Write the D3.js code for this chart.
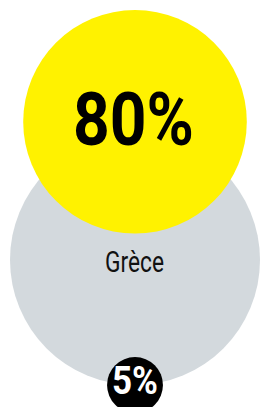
<!DOCTYPE html>
<html>
<head>
<meta charset="utf-8">
<script src="https://cdn.jsdelivr.net/npm/d3@7"></script>
<style>
  html,body{margin:0;padding:0;background:#fff;overflow:hidden;}
</style>
</head>
<body>
<script>
// data
var country="Grèce";
var total=100;
var shares=[80,5];
var shareLabels=["80%","5%"];

var W=261,H=407;
var svg=d3.select("body")
		.append("svg")
		.attr("width",W)
		.attr("height",H);

var r=d3.scaleSqrt()
		.domain([0,total])
		.range([0,125]);

var cx=135;
var grayCy=260;
var yellowCy=10+r(shares[0]);
var blackCy=grayCy+r(total);

// big gray circle = total
svg.append("circle")
		.attr("cx",cx)
		.attr("cy",grayCy)
		.attr("r",r(total))
		.attr("fill","#d3d9dd");
// yellow circle
svg.append("circle")
		.attr("cx",cx)
		.attr("cy",yellowCy)
		.attr("r",r(shares[0]))
		.attr("fill","#fff200");
// black circle
svg.append("circle")
		.attr("cx",cx)
		.attr("cy",blackCy)
		.attr("r",r(shares[1]))
		.attr("fill","#000");

svg.append("text")
		.attr("x",133.5)
		.attr("y",145)
		.attr("text-anchor","middle")
		.attr("font-family","Roboto")
		.attr("font-weight","bold")
		.attr("font-size",74)
		.attr("textLength",121)
		.attr("lengthAdjust","spacingAndGlyphs")
		.attr("fill","#000")
		.text(shareLabels[0]);

svg.append("text")
		.attr("x",134.5)
		.attr("y",272)
		.attr("text-anchor","middle")
		.attr("font-family","Roboto")
		.attr("font-size",29)
		.attr("textLength",59)
		.attr("lengthAdjust","spacingAndGlyphs")
		.attr("fill","#111")
		.text(country);

svg.append("text")
		.attr("x",135)
		.attr("y",394)
		.attr("text-anchor","middle")
		.attr("font-family","Roboto")
		.attr("font-weight","bold")
		.attr("font-size",39)
		.attr("textLength",46)
		.attr("lengthAdjust","spacingAndGlyphs")
		.attr("fill","#fff")
		.text(shareLabels[1]);
</script>
</body>
</html>
